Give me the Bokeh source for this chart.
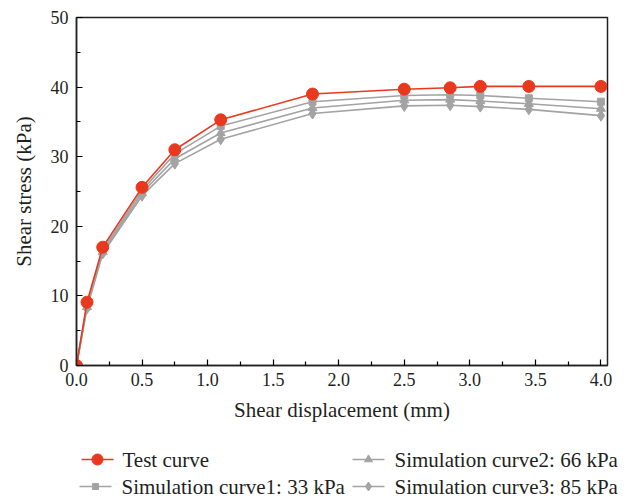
from bokeh.plotting import figure
from bokeh.layouts import column, row
from bokeh.models import Range1d, FixedTicker
from bokeh.core.properties import value
from bokeh.embed import file_html
from bokeh.resources import INLINE

# Shear displacement (mm) where stress was recorded
displacement = [0.0, 0.08, 0.2, 0.5, 0.75, 1.1, 1.8, 2.5, 2.85, 3.08, 3.45, 4.0]

# Shear stress (kPa)
test_curve = [0.0, 9.1, 17.0, 25.6, 31.0, 35.3, 39.0, 39.7, 39.9, 40.1, 40.1, 40.1]
sim_33 = [0.0, 8.7, 16.6, 25.2, 30.4, 34.4, 37.9, 38.8, 38.9, 38.8, 38.4, 37.9]
sim_66 = [0.0, 8.4, 16.3, 24.8, 29.7, 33.4, 37.0, 38.1, 38.2, 38.0, 37.6, 36.9]
sim_85 = [0.0, 8.2, 16.1, 24.4, 29.0, 32.5, 36.2, 37.3, 37.4, 37.2, 36.8, 35.9]

x_ticks = [0.0, 0.5, 1.0, 1.5, 2.0, 2.5, 3.0, 3.5, 4.0]
y_ticks = [0, 10, 20, 30, 40, 50]

labels = ["Test curve", "Simulation curve1: 33 kPa",
          "Simulation curve2: 66 kPa", "Simulation curve3: 85 kPa"]

RED = "#E8391F"
GRAY = "#A3A3A3"
FONT = "Liberation Serif"
TEXT = "#231F20"

p = figure(width=632, height=432, output_backend="svg", toolbar_location=None,
           x_range=Range1d(0, 4.05), y_range=Range1d(0, 50),
           min_border_left=76, min_border_right=25, min_border_top=17,
           min_border_bottom=67)
p.grid.visible = False
p.background_fill_color = "white"
p.border_fill_color = "white"
p.outline_line_color = "#222222"
p.outline_line_width = 1.5

for ax in (p.xaxis[0], p.yaxis[0]):
    ax.major_tick_in = 6
    ax.major_tick_out = 0
    ax.minor_tick_in = 4
    ax.minor_tick_out = 0
    ax.axis_line_color = "#222222"
    ax.axis_line_width = 1.5
    ax.major_tick_line_width = 1.2
    ax.minor_tick_line_width = 1.2
    ax.major_label_text_font = FONT
    ax.major_label_text_font_size = "18px"
    ax.major_label_text_color = TEXT
    ax.axis_label_text_font = FONT
    ax.axis_label_text_font_size = "21px"
    ax.axis_label_text_font_style = "normal"
    ax.axis_label_text_color = TEXT

p.xaxis[0].ticker = FixedTicker(ticks=x_ticks, minor_ticks=[0.25 + 0.5 * i for i in range(8)])
p.yaxis[0].ticker = FixedTicker(ticks=y_ticks, minor_ticks=[5, 15, 25, 35, 45])
p.xaxis[0].major_label_overrides = {t: f"{t:.1f}" for t in x_ticks}
p.xaxis.axis_label = "Shear displacement (mm)"
p.yaxis.axis_label = "Shear stress (kPa)"
p.xaxis.major_label_standoff = 7
p.yaxis.major_label_standoff = 8
p.xaxis.axis_label_standoff = 9
p.yaxis.axis_label_standoff = 12

# simulation curves first so the test curve sits on top
sim_series = [(sim_85, "diamond", 11), (sim_66, "triangle", 9), (sim_33, "square", 7)]
for ys, marker, size in sim_series:
    p.line(displacement, ys, line_color=GRAY, line_width=1.6)
    p.scatter(displacement, ys, marker=marker, size=size,
              fill_color=GRAY, line_color=GRAY)

p.line(displacement, test_curve, line_color=RED, line_width=1.6)
p.scatter(displacement, test_curve, marker="circle", size=12,
          fill_color=RED, line_color=RED)

# legend strip underneath the chart, in pixel units
lg = figure(width=632, height=69, output_backend="svg", toolbar_location=None,
            x_range=Range1d(0, 632), y_range=Range1d(0, 69),
            x_axis_location=None, y_axis_location=None,
            min_border_left=0, min_border_right=0, min_border_top=0,
            min_border_bottom=0, outline_line_color=None)
lg.grid.visible = False

key_x0 = [81, 79, 352, 352]
key_y = [42, 15, 42, 15]
key_color = [RED, GRAY, GRAY, GRAY]
key_marker = ["circle", "square", "triangle", "diamond"]
key_size = [11, 6, 8, 9]
text_x = [122, 121, 394, 394]

for i in range(4):
    lg.line([key_x0[i], key_x0[i] + 32], [key_y[i], key_y[i]],
            line_color=key_color[i], line_width=1.6)
    lg.scatter([key_x0[i] + 16], [key_y[i]], marker=key_marker[i], size=key_size[i],
               fill_color=key_color[i], line_color=key_color[i])
lg.text(x=text_x, y=key_y, text=labels, text_font=value(FONT),
        text_font_size="21px", text_color=TEXT, text_baseline="middle")

layout = column(row(p), row(lg), spacing=0)
open("out.html", "w").write(file_html(layout, INLINE))
